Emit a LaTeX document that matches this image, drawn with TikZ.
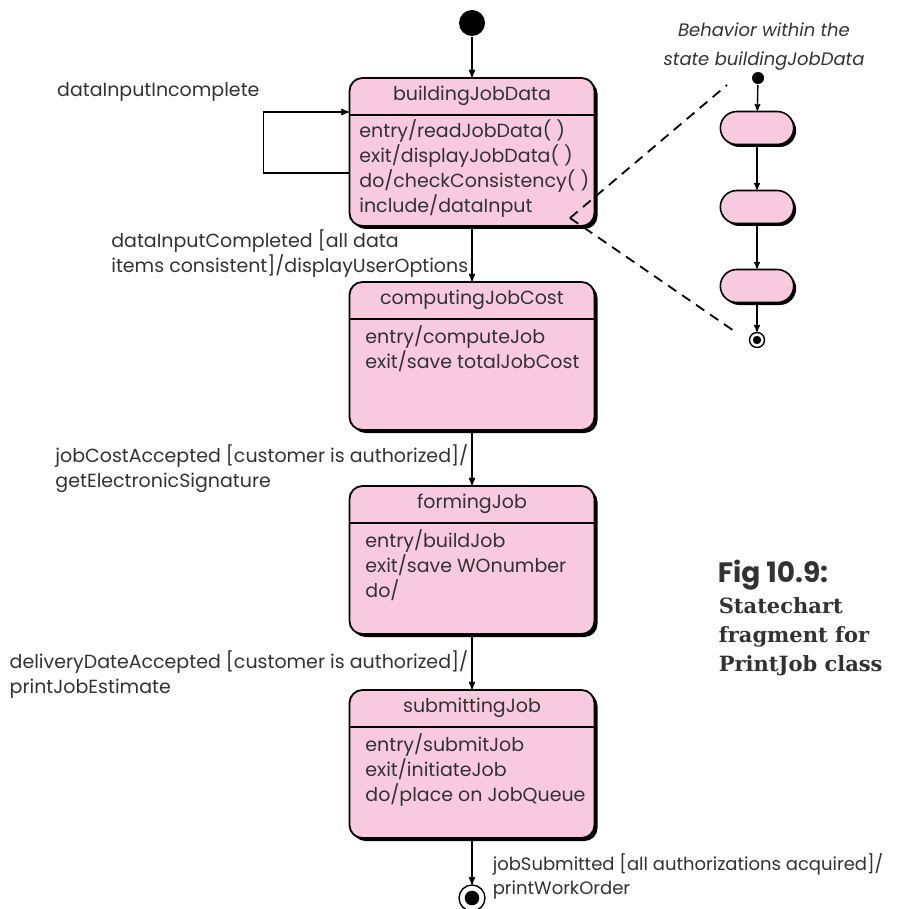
\documentclass[tikz,border=0pt]{standalone}
\usepackage{fontspec}
\setmainfont{Poppins}
\newfontfamily\slabfont{DejaVu Serif}
\usepackage{tikz}
\usetikzlibrary{positioning}
\usetikzlibrary{arrows,shadows,shapes.misc}
\definecolor{statepink}{RGB}{247,202,223}
\definecolor{ink}{RGB}{50,50,50}

\begin{document}
\begin{tikzpicture}[x=1pt,y=-1pt,->,>=stealth',line width=1.6pt,node distance=204pt,
    every node/.style={font=\fontsize{19}{25}\selectfont,text=ink},
    state/.style={draw=black,fill=statepink,line width=1.8pt,rounded corners=13pt,
      minimum width=245pt,minimum height=148pt,
      drop shadow={shadow xshift=3pt,shadow yshift=-3pt,fill=black,opacity=1}},
    pill/.style={draw=black,fill=statepink,line width=1.6pt,rounded rectangle,
      minimum width=80pt,minimum height=33pt,
      drop shadow={shadow xshift=2.5pt,shadow yshift=-2.5pt,fill=black,opacity=1}},
    start/.style={circle,fill=black,inner sep=0pt,minimum size=#1},
    stop/.style={circle,draw=black,fill=white,line width=1.4pt,inner sep=0pt,minimum size=#1,
      path picture={\fill[black] (path picture bounding box.center) circle (#1*0.28);}},
    body/.style={anchor=north west,align=left,inner sep=0pt},
    trans/.style={align=left,inner sep=3pt}]
  \useasboundingbox (0,0) rectangle (896,909);

  % main states
  \node (A) [state] at (472,152) {};
  \node (B) [state,below of=A] {};
  \node (C) [state,below of=B] {};
  \node (D) [state,below of=C] {};
  \node (I) [start=26pt,above of=A,node distance=129pt] {};
  \node (F) [stop=26pt,below of=D,node distance=134pt] {};

  \foreach \s in {A,B,C,D}
    \draw[-,line width=1.8pt] ([yshift=-38pt]\s.north west) -- ([yshift=-38pt]\s.north east);

  \node (A0) at ([yshift=-19pt]A.north) {buildingJobData};
  \node (B0) at ([yshift=-19pt]B.north) {computingJobCost};
  \node (C0) at ([yshift=-19pt]C.north) {formingJob};
  \node (D0) at ([yshift=-19pt]D.north) {submittingJob};

  \node (A1) [body] at ([xshift=10pt,yshift=-42pt]A.north west)
    {entry/readJobData( )\\exit/displayJobData( )\\do/checkConsistency( )\\include/dataInput};
  \node (B1) [body] at ([xshift=16pt,yshift=-44pt]B.north west)
    {entry/computeJob\\exit/save totalJobCost};
  \node (C1) [body] at ([xshift=16pt,yshift=-44pt]C.north west)
    {entry/buildJob\\exit/save WOnumber\\do/};
  \node (D1) [body] at ([xshift=16pt,yshift=-44pt]D.north west)
    {entry/submitJob\\exit/initiateJob\\do/place on JobQueue};

  % transitions
  \path[->] (I) edge (A)
    (A) edge node (L1) [trans,left] {dataInputCompleted [all data\\items consistent]/displayUserOptions} (B)
    (B) edge node (L2) [trans,left,pos=0.7] {jobCostAccepted [customer is authorized]/\\getElectronicSignature} (C)
    (C) edge node (L3) [trans,left,pos=0.73] {deliveryDateAccepted [customer is authorized]/\\printJobEstimate} (D)
    (D) edge node (L4) [trans,right,pos=0.83,xshift=17pt,font=\fontsize{18}{24}\selectfont]
      {jobSubmitted [all authorizations acquired]/\\printWorkOrder} (F);

  \draw[->] ([yshift=-21pt]A.west) -- ++(-85,0)
    |- node (L0) [above left,yshift=6pt,pos=0.5] {dataInputIncomplete} ([yshift=40pt]A.west);

  % behavior within buildingJobData
  \node (N) [align=center,font=\fontsize{18}{29}\selectfont\itshape] at (764,47) {Behavior within the\\state buildingJobData};
  \node (P0) [start=12pt] at (758,78) {};
  \node (P1) [pill] at (757,128) {};
  \node (P2) [pill,below of=P1,node distance=79pt] {};
  \node (P3) [pill,below of=P2,node distance=79pt] {};
  \node (P4) [stop=15pt,below of=P3,node distance=54pt] {};
  \path[->,line width=1.4pt] (P0) edge (P1)
    (P1) edge (P2)
    (P2) edge (P3)
    (P3) edge (P4);

  \coordinate (Z) at (570,218);
  \coordinate (Z1) at (727,85);
  \coordinate (Z2) at (737,333);
  \draw[-,line width=1.8pt,dash pattern=on 10pt off 7pt] (Z) -- (Z1) (Z) -- (Z2);

  % caption
  \node (T) [anchor=west,inner sep=0pt,font=\fontsize{28}{30}\selectfont\bfseries] at (717,575) {Fig 10.9:};
  \node (T1) [anchor=north west,align=left,inner sep=0pt,
    font=\slabfont\bfseries\fontsize{21}{29}\selectfont] at (718,597)
    {Statechart\\fragment for\\PrintJob class};
\end{tikzpicture}
\end{document}
